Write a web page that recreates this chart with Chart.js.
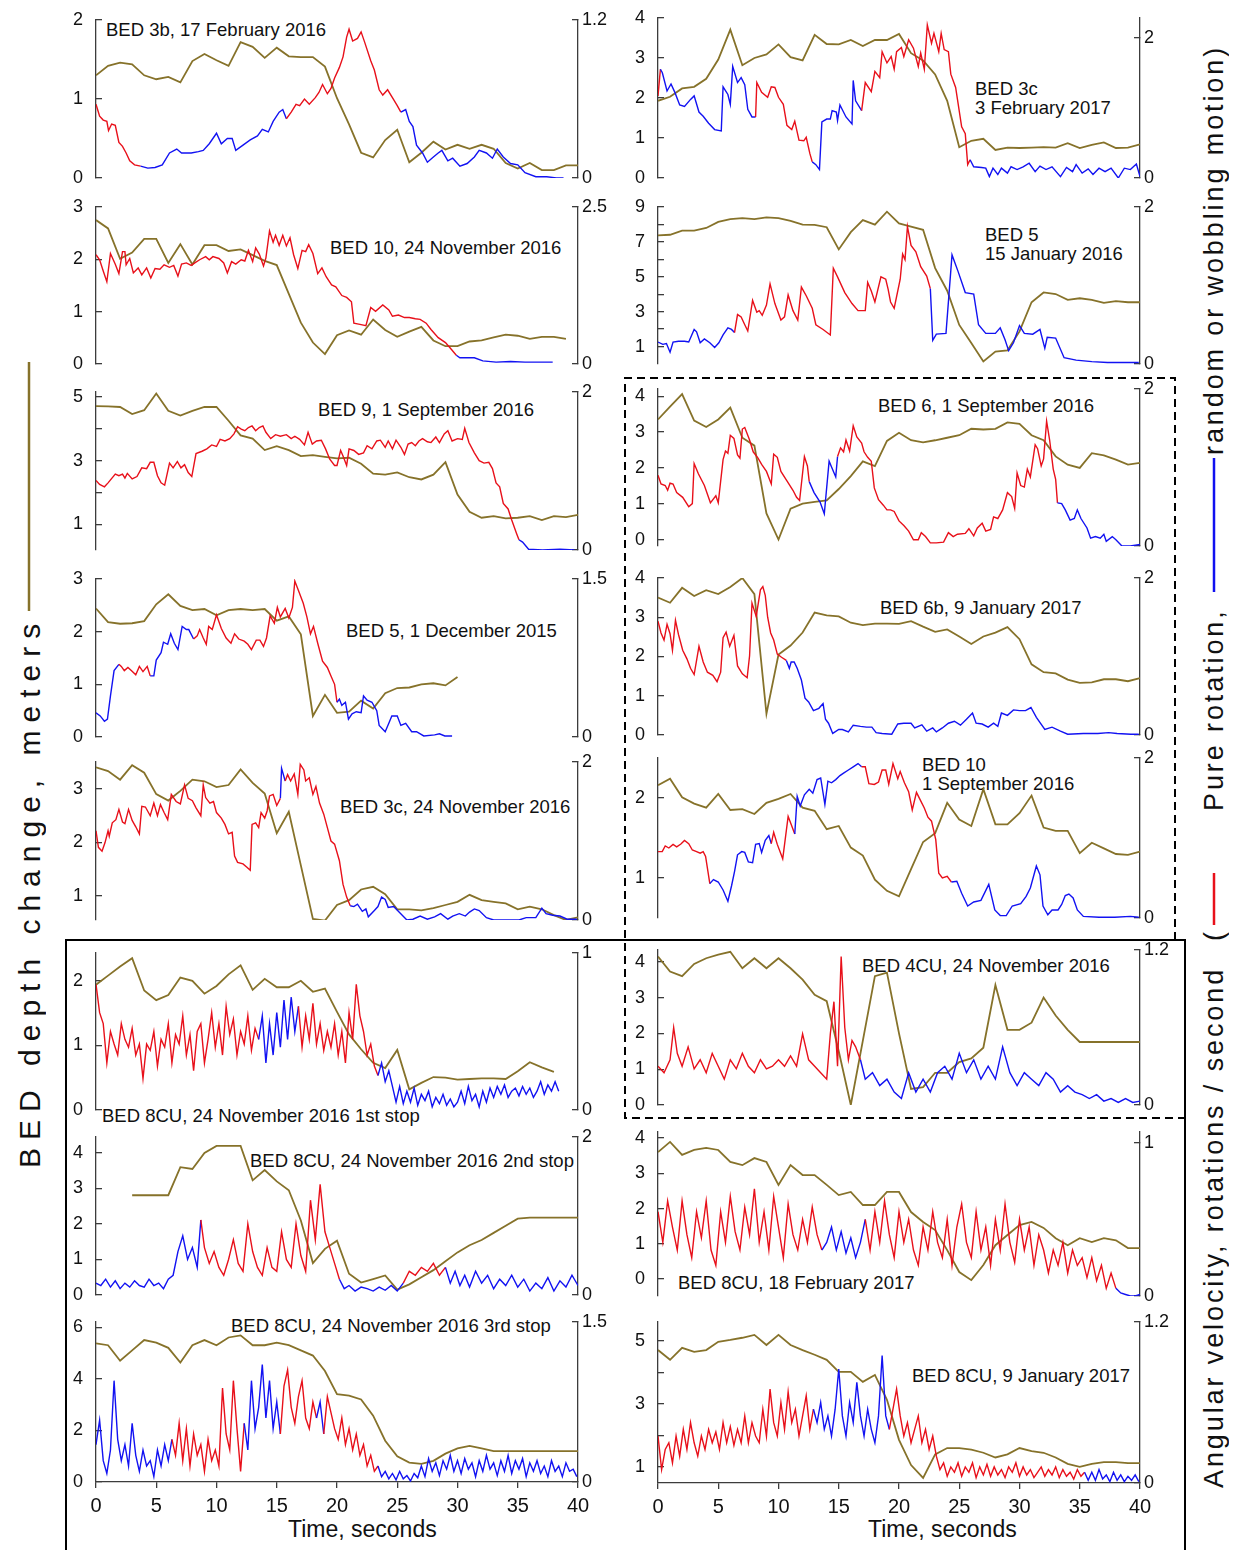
<!DOCTYPE html>
<html><head><meta charset="utf-8">
<script src="https://cdn.jsdelivr.net/npm/chart.js@4.4.1/dist/chart.umd.min.js"></script>
<style>
body{margin:0;background:#fff;width:1235px;height:1550px;position:relative;overflow:hidden;font-family:"Liberation Sans",Arial,sans-serif;}
canvas{position:absolute;}
.t{position:absolute;font-size:18.5px;color:#111;white-space:nowrap;line-height:19px;}
.v{position:absolute;writing-mode:vertical-rl;transform:rotate(180deg);white-space:nowrap;text-align:center;color:#111;}
.xt{position:absolute;font-size:23px;color:#111;white-space:nowrap;}
</style></head><body>
<svg width="1235" height="1550" style="position:absolute;left:0;top:0">
<polyline points="66,1552 66,940 1185,940 1185,1552" fill="none" stroke="#000" stroke-width="2"/>
<polyline points="1175,940 1175,378 625,378 625,1118 1185,1118" fill="none" stroke="#000" stroke-width="2" stroke-dasharray="8,5"/>
<line x1="29" y1="362" x2="29" y2="611" stroke="#86722a" stroke-width="2.5"/>
<line x1="1214" y1="873" x2="1214" y2="925" stroke="#e8101a" stroke-width="2.5"/>
<line x1="1214" y1="458" x2="1214" y2="592" stroke="#1010f0" stroke-width="2.5"/>
</svg>
<div class="v" style="left:12px;top:612px;height:560px;width:36px;font-size:30px;line-height:36px;letter-spacing:8px;">BED depth change, meters</div>
<div class="v" style="left:1198px;top:960px;height:535px;width:32px;font-size:27px;line-height:32px;letter-spacing:2.9px;">Angular velocity, rotations / second</div>
<div class="v" style="left:1198px;top:926px;height:22px;width:32px;font-size:27px;line-height:32px;">(</div>
<div class="v" style="left:1198px;top:575px;height:270px;width:32px;font-size:27px;line-height:32px;letter-spacing:2.9px;">Pure rotation,</div>
<div class="v" style="left:1198px;top:42px;height:415px;width:32px;font-size:27px;line-height:32px;letter-spacing:2.9px;">random or wobbling motion)</div>

<div class="t" style="left:106px;top:20px">BED 3b, 17 February 2016</div>
<div class="t" style="left:330px;top:238px">BED 10, 24 November 2016</div>
<div class="t" style="left:318px;top:400px">BED 9, 1 September 2016</div>
<div class="t" style="left:346px;top:621px">BED 5, 1 December 2015</div>
<div class="t" style="left:340px;top:797px">BED 3c, 24 November 2016</div>
<div class="t" style="left:102px;top:1106px">BED 8CU, 24 November 2016 1st stop</div>
<div class="t" style="left:250px;top:1151px">BED 8CU, 24 November 2016 2nd stop</div>
<div class="t" style="left:231px;top:1316px">BED 8CU, 24 November 2016 3rd stop</div>
<div class="t" style="left:975px;top:79px">BED 3c<br>3 February 2017</div>
<div class="t" style="left:985px;top:225px">BED 5<br>15 January 2016</div>
<div class="t" style="left:878px;top:396px">BED 6, 1 September 2016</div>
<div class="t" style="left:880px;top:598px">BED 6b, 9 January 2017</div>
<div class="t" style="left:922px;top:755px">BED 10<br>1 September 2016</div>
<div class="t" style="left:862px;top:956px">BED 4CU, 24 November 2016</div>
<div class="t" style="left:678px;top:1273px">BED 8CU, 18 February 2017</div>
<div class="t" style="left:912px;top:1366px">BED 8CU, 9 January 2017</div>
<div class="xt" style="left:288px;top:1516px">Time, seconds</div>
<div class="xt" style="left:868px;top:1516px">Time, seconds</div>

<script>
// ---------- x ticks ----------
const xTicks = [0,5,10,15,20,25,30,35,40];

// ---------- L1: BED 3b, 17 February 2016 ----------
const depL1 = [1.30,1.42,1.46,1.44,1.30,1.25,1.28,1.21,1.48,1.57,1.49,1.42,1.72,1.66,1.52,1.65,1.54,1.53,1.53,1.41,1.01,0.68,0.32,0.26,0.48,0.61,0.20,0.32,0.46,0.36,0.42,0.37,0.42,0.37,0.19,0.12,0.19,0.10,0.10,0.16,0.16];
const velL1 = [[0,0.56],[0.3,0.47],[0.6,0.44],[0.9,0.43],[1.04,0.36],[1.3,0.41],[1.6,0.40],[1.9,0.27],[2.2,0.24],[2.5,0.19],[2.8,0.13],[3.2,0.10],[3.7,0.09],[4.3,0.075],[4.9,0.08],[5.5,0.10],[6.1,0.19],[6.7,0.22],[7.1,0.19],[7.9,0.19],[8.5,0.20],[8.9,0.21],[9.4,0.26],[10.0,0.34],[10.4,0.26],[10.9,0.30],[11.3,0.30],[11.6,0.21],[12.2,0.25],[12.8,0.29],[13.4,0.32],[13.8,0.37],[14.3,0.35],[14.7,0.43],[15.2,0.50],[15.5,0.52],[15.8,0.45],[16.2,0.50],[16.6,0.56],[16.9,0.55],[17.3,0.60],[17.7,0.56],[18.2,0.61],[18.5,0.65],[18.8,0.71],[19.2,0.64],[19.5,0.68],[19.8,0.76],[20.2,0.84],[20.5,0.92],[20.8,1.07],[21.0,1.13],[21.3,1.04],[21.7,1.06],[22.0,1.11],[22.3,1.03],[22.8,0.89],[23.1,0.82],[23.5,0.67],[23.8,0.63],[24.2,0.67],[24.6,0.61],[25.0,0.55],[25.3,0.50],[25.7,0.52],[26.0,0.43],[26.3,0.39],[26.6,0.25],[27.1,0.19],[27.5,0.12],[28.0,0.16],[28.4,0.19],[28.7,0.21],[29.2,0.13],[29.6,0.15],[30.2,0.09],[30.8,0.11],[31.4,0.16],[31.8,0.21],[32.4,0.19],[32.9,0.15],[33.3,0.22],[33.8,0.16],[34.4,0.11],[35.0,0.10],[35.6,0.04],[36.5,0.01],[37.4,0.01],[38.2,0],[38.8,0]];
const blueL1 = [[3.7,15.8],[25.3,40]];

// ---------- L2: BED 10, 24 November 2016 ----------
const depL2 = [2.75,2.59,2.01,2.13,2.39,2.39,1.93,2.29,1.90,2.27,2.27,2.16,2.19,2.08,1.97,1.89,1.34,0.79,0.41,0.19,0.55,0.64,0.56,0.85,0.65,0.52,0.62,0.71,0.45,0.34,0.34,0.43,0.45,0.51,0.56,0.54,0.48,0.52,0.52,0.48,null];
const velL2 = [[0,1.74],[0.3,1.66],[0.6,1.48],[0.9,1.31],[1.2,1.76],[1.6,1.59],[1.9,1.44],[2.2,1.79],[2.4,1.79],[2.5,1.58],[2.8,1.68],[3.1,1.45],[3.5,1.53],[3.8,1.42],[4.2,1.53],[4.55,1.37],[4.9,1.52],[5.3,1.51],[5.65,1.58],[6.1,1.54],[6.45,1.57],[6.8,1.40],[7.1,1.59],[7.5,1.61],[7.9,1.57],[8.2,1.61],[8.6,1.66],[9.1,1.71],[9.4,1.66],[9.7,1.71],[10.2,1.68],[10.6,1.61],[10.9,1.45],[11.25,1.63],[11.6,1.59],[12.05,1.66],[12.35,1.64],[12.65,1.81],[13.0,1.63],[13.25,1.85],[13.55,1.75],[13.9,1.56],[14.1,1.69],[14.4,2.12],[14.7,1.94],[14.9,2.05],[15.2,1.89],[15.5,2.05],[15.8,1.88],[16.1,2.01],[16.4,1.74],[16.75,1.52],[17.1,1.81],[17.4,1.79],[17.65,1.90],[18.0,1.76],[18.4,1.44],[18.75,1.53],[19.1,1.39],[19.55,1.26],[19.9,1.23],[20.4,1.09],[20.8,1.06],[21.2,0.99],[21.4,0.65],[21.9,0.63],[22.4,0.61],[22.8,0.90],[23.2,0.84],[23.8,0.94],[24.3,0.86],[24.6,0.76],[25.1,0.78],[25.6,0.74],[26.0,0.74],[26.5,0.72],[26.9,0.71],[27.4,0.65],[27.8,0.55],[28.4,0.42],[29.0,0.34],[29.5,0.23],[29.9,0.14],[30.2,0.10],[31.4,0.10],[32.1,0.05],[33.2,0.03],[34.4,0.04],[35.6,0.03],[36.8,0.03],[37.9,0.03]];
const blueL2 = [[29.9,40]];

// ---------- L3: BED 9, 1 September 2016 ----------
const depL3 = [4.71,4.70,4.68,4.46,4.58,5.10,4.56,4.41,4.56,4.68,4.68,4.25,3.79,3.69,3.33,3.45,3.33,3.14,3.17,3.12,3.07,3.09,2.90,2.59,2.56,2.63,2.48,2.41,2.56,2.95,1.94,1.40,1.21,1.26,1.19,1.21,1.26,1.14,1.26,1.23,1.30];
const velL3 = [[0,0.88],[0.3,0.83],[0.7,0.80],[1.0,0.85],[1.6,0.96],[1.9,0.94],[2.2,0.96],[2.4,0.91],[2.6,0.97],[3.0,0.90],[3.4,0.93],[3.8,1.04],[4.2,1.03],[4.5,1.11],[4.8,1.11],[5.1,0.94],[5.4,0.85],[5.7,0.82],[6.1,1.10],[6.4,1.04],[6.75,1.12],[7.05,1.04],[7.35,1.08],[7.65,0.98],[7.95,0.93],[8.3,1.22],[8.8,1.25],[9.2,1.28],[9.6,1.33],[10.0,1.31],[10.3,1.40],[10.7,1.38],[11.1,1.41],[11.45,1.47],[11.75,1.56],[12.05,1.53],[12.35,1.51],[12.65,1.55],[12.95,1.57],[13.25,1.51],[13.55,1.55],[13.85,1.57],[14.1,1.49],[14.5,1.41],[14.9,1.46],[15.3,1.44],[15.8,1.46],[16.2,1.41],[16.5,1.44],[16.9,1.40],[17.3,1.33],[17.6,1.49],[17.95,1.34],[18.3,1.38],[18.7,1.39],[19.05,1.28],[19.4,1.15],[19.8,1.07],[20.0,1.07],[20.3,1.26],[20.5,1.19],[20.8,1.07],[21.0,1.28],[21.4,1.26],[21.8,1.21],[22.2,1.23],[22.5,1.32],[22.9,1.28],[23.3,1.38],[23.6,1.39],[24.0,1.30],[24.25,1.38],[24.6,1.28],[24.9,1.39],[25.3,1.30],[25.6,1.21],[25.9,1.34],[26.2,1.36],[26.5,1.32],[26.8,1.38],[27.1,1.41],[27.5,1.37],[27.8,1.36],[28.2,1.43],[28.5,1.36],[28.9,1.47],[29.2,1.51],[29.55,1.38],[30.0,1.41],[30.4,1.40],[30.6,1.54],[30.95,1.36],[31.4,1.23],[31.8,1.13],[32.2,1.10],[32.6,1.11],[32.9,1.03],[33.2,0.85],[33.5,0.80],[33.8,0.59],[34.2,0.52],[34.5,0.38],[34.9,0.21],[35.1,0.13],[35.4,0.10],[35.9,0.01],[37.05,0],[38.5,0.01],[39.7,0]];
const blueL3 = [[35.1,40]];

// ---------- L4: BED 5, 1 December 2015 ----------
const depL4 = [2.44,2.18,2.15,2.16,2.20,2.52,2.71,2.49,2.41,2.43,2.31,2.41,2.43,2.41,2.43,2.21,2.29,1.95,0.40,0.80,0.46,0.48,0.69,0.54,0.83,0.93,0.94,1.00,1.02,0.98,1.14,null,null,null,null,null,null,null,null,null,null];
const velL4 = [[0,0.23],[0.35,0.20],[0.7,0.15],[0.95,0.17],[1.2,0.39],[1.5,0.63],[1.9,0.69],[2.1,0.67],[2.35,0.63],[2.65,0.66],[2.95,0.63],[3.3,0.59],[3.6,0.67],[3.9,0.62],[4.25,0.67],[4.5,0.58],[4.8,0.58],[5.0,0.73],[5.4,0.80],[5.6,0.90],[5.95,0.88],[6.2,0.98],[6.5,0.89],[6.8,0.83],[7.15,1.05],[7.5,1.02],[7.7,1.02],[8.1,0.93],[8.4,0.96],[8.6,1.02],[8.9,0.94],[9.15,0.88],[9.35,1.05],[9.65,1.02],[10.0,1.16],[10.4,1.03],[10.8,0.94],[11.2,0.89],[11.5,0.98],[11.85,0.93],[12.3,0.91],[12.6,0.88],[12.9,0.83],[13.3,0.92],[13.6,0.92],[13.9,0.86],[14.15,0.94],[14.45,1.15],[14.8,1.08],[15.05,1.23],[15.3,1.14],[15.7,1.22],[16.0,1.13],[16.3,1.23],[16.5,1.48],[16.8,1.39],[17.2,1.27],[17.5,1.14],[17.8,0.98],[18.05,1.05],[18.4,0.89],[18.8,0.72],[19.2,0.66],[19.5,0.58],[19.8,0.50],[20.0,0.33],[20.2,0.36],[20.4,0.30],[20.7,0.33],[20.95,0.17],[21.25,0.22],[21.6,0.24],[22.0,0.23],[22.2,0.39],[22.5,0.35],[22.9,0.33],[23.3,0.25],[23.5,0.11],[24.0,0.05],[24.3,0.13],[24.55,0.20],[25.0,0.20],[25.3,0.11],[25.7,0.13],[26.2,0.05],[26.6,0.05],[27.2,0.01],[28.1,0.02],[28.5,0.03],[28.95,0.01],[29.55,0.01]];
const blueL4 = [[0,1.9],[4.5,8.0],[20.0,40]];

// ---------- L5: BED 3c, 24 November 2016 ----------
const depL5 = [3.40,3.33,3.17,3.44,3.30,2.90,2.78,2.96,3.17,3.14,3.03,3.07,3.36,3.11,2.91,2.17,2.57,1.57,0.57,0.54,0.83,0.92,1.12,1.17,1.03,0.75,0.75,0.73,0.77,0.83,0.89,1.02,0.92,0.89,0.86,0.75,0.80,0.75,0.64,0.55,0.60];
const velL5 = [[0,1.13],[0.2,0.92],[0.5,0.87],[0.75,0.98],[1.0,1.13],[1.1,1.06],[1.35,1.23],[1.65,1.27],[1.9,1.40],[2.2,1.24],[2.4,1.22],[2.7,1.40],[3.0,1.26],[3.3,1.18],[3.6,1.09],[3.8,1.44],[4.1,1.43],[4.5,1.32],[4.8,1.48],[5.1,1.32],[5.35,1.46],[5.65,1.36],[5.95,1.27],[6.25,1.59],[6.65,1.50],[7.0,1.47],[7.35,1.71],[7.65,1.54],[8.0,1.51],[8.3,1.42],[8.7,1.32],[8.9,1.71],[9.1,1.55],[9.45,1.48],[9.75,1.50],[10.0,1.36],[10.4,1.29],[10.7,1.21],[11.0,1.09],[11.3,1.11],[11.5,0.81],[11.75,0.73],[12.2,0.71],[12.5,0.67],[12.8,0.63],[12.95,1.21],[13.25,1.23],[13.5,1.17],[13.7,1.36],[14.0,1.29],[14.2,1.38],[14.4,1.57],[14.7,1.59],[15.0,1.45],[15.3,1.54],[15.4,1.92],[15.7,1.76],[15.9,1.84],[16.15,1.76],[16.45,1.85],[16.75,1.59],[16.95,1.97],[17.25,1.90],[17.4,1.76],[17.7,1.80],[18.0,1.59],[18.25,1.69],[18.55,1.48],[18.9,1.34],[19.2,1.17],[19.5,1.00],[19.8,0.96],[20.2,0.75],[20.5,0.45],[20.8,0.29],[21.1,0.18],[21.4,0.17],[21.7,0.20],[22.1,0.11],[22.4,0.14],[22.6,0.04],[23.1,0.12],[23.4,0.17],[23.7,0.29],[24.0,0.26],[24.25,0.16],[24.7,0.17],[25.15,0.10],[25.8,0],[26.3,0.01],[26.9,0.05],[27.5,0.01],[28.1,0.04],[28.6,0.08],[29.2,0.01],[29.6,0.05],[30.15,0.08],[30.65,0.05],[31.0,0.10],[31.4,0.14],[31.8,0.12],[32.4,0.03],[33.0,0],[34.1,0],[35.1,0],[35.7,0.03],[36.5,0.03],[37.0,0.15],[37.35,0.08],[37.9,0.06],[38.5,0.05],[39.1,0.01],[39.9,0.01]];
const blueL5 = [[15.35,15.75],[21.1,40]];

// ---------- L6: BED 8CU, 24 November 2016 1st stop ----------
const depL6 = [1.94,2.08,2.22,2.35,1.85,1.70,1.78,2.05,2.00,1.80,1.92,2.10,2.24,1.86,2.03,1.90,1.90,2.00,1.83,1.88,1.52,1.17,0.94,0.73,0.65,0.93,0.32,0.42,0.51,0.50,0.47,0.48,0.49,0.49,0.48,0.60,0.74,0.66,0.59,null,null];
const velL6 = [[0,0.80],[0.3,0.62],[0.6,0.55],[0.9,0.30],[1.2,0.50],[1.5,0.42],[1.8,0.35],[2.1,0.55],[2.4,0.45],[2.7,0.40],[3.0,0.52],[3.3,0.35],[3.6,0.42],[3.9,0.20],[4.2,0.42],[4.5,0.38],[4.8,0.50],[5.1,0.28],[5.4,0.45],[5.7,0.40],[6.0,0.55],[6.3,0.30],[6.6,0.48],[6.9,0.42],[7.2,0.60],[7.5,0.35],[7.8,0.48],[8.1,0.25],[8.4,0.50],[8.7,0.55],[9.0,0.30],[9.3,0.45],[9.6,0.62],[9.9,0.40],[10.2,0.55],[10.5,0.35],[10.8,0.66],[11.1,0.48],[11.4,0.58],[11.7,0.35],[12.0,0.50],[12.3,0.42],[12.6,0.60],[12.9,0.38],[13.2,0.52],[13.5,0.45],[13.8,0.60],[14.1,0.30],[14.4,0.55],[14.7,0.35],[15.0,0.62],[15.3,0.40],[15.6,0.70],[15.9,0.45],[16.2,0.72],[16.5,0.50],[16.8,0.66],[17.1,0.40],[17.4,0.60],[17.7,0.45],[18.0,0.68],[18.3,0.42],[18.6,0.55],[18.9,0.38],[19.2,0.50],[19.5,0.40],[19.8,0.55],[20.1,0.35],[20.4,0.50],[20.7,0.30],[21.0,0.62],[21.3,0.45],[21.6,0.80],[21.9,0.60],[22.2,0.50],[22.5,0.35],[22.8,0.42],[23.1,0.28],[23.4,0.22],[23.7,0.30],[24.0,0.18],[24.3,0.25],[24.6,0.15],[24.9,0.05],[25.2,0.15],[25.5,0.04],[25.8,0.12],[26.1,0.05],[26.4,0.14],[26.7,0.03],[27.0,0.10],[27.3,0.06],[27.6,0.12],[27.9,0.02],[28.2,0.08],[28.5,0.04],[28.8,0.10],[29.1,0.03],[29.4,0.07],[29.7,0.02],[30.0,0.05],[30.3,0.12],[30.6,0.04],[30.9,0.15],[31.2,0.06],[31.5,0.10],[31.8,0.02],[32.1,0.12],[32.4,0.05],[32.7,0.14],[33.0,0.08],[33.3,0.15],[33.6,0.10],[33.9,0.16],[34.2,0.08],[34.5,0.12],[34.8,0.14],[35.1,0.09],[35.4,0.15],[35.7,0.10],[36.0,0.14],[36.3,0.08],[36.6,0.12],[36.9,0.18],[37.2,0.10],[37.5,0.16],[37.8,0.12],[38.1,0.18],[38.4,0.12]];
const blueL6 = [[13.5,16.7],[23.3,40]];

// ---------- L7: BED 8CU, 24 November 2016 2nd stop ----------
const depL7 = [null,null,null,2.81,2.81,2.81,2.81,3.60,3.55,4.00,4.20,4.20,4.20,3.23,3.52,3.20,2.95,2.10,0.90,1.30,1.53,0.60,0.35,0.45,0.55,0.15,0.30,0.50,0.70,0.95,1.20,1.40,1.55,1.75,1.95,2.15,2.18,2.18,2.18,2.18,2.18];
const velL7 = [[0,0.15],[0.4,0.12],[0.8,0.20],[1.2,0.10],[1.6,0.18],[2.0,0.08],[2.4,0.15],[2.8,0.10],[3.2,0.18],[3.6,0.12],[4.0,0.10],[4.4,0.20],[4.8,0.12],[5.2,0.15],[5.6,0.08],[6.0,0.20],[6.4,0.25],[6.8,0.55],[7.2,0.75],[7.6,0.45],[8.0,0.60],[8.4,0.35],[8.7,0.95],[9.0,0.60],[9.4,0.40],[9.8,0.55],[10.2,0.35],[10.6,0.25],[11.0,0.45],[11.4,0.70],[11.8,0.40],[12.2,0.30],[12.6,0.90],[13.0,0.55],[13.4,0.35],[13.8,0.25],[14.2,0.60],[14.6,0.35],[15.0,0.30],[15.4,0.80],[15.8,0.45],[16.2,0.35],[16.6,0.90],[17.0,0.50],[17.4,0.30],[17.8,1.20],[18.2,0.70],[18.6,1.40],[19.0,0.80],[19.4,0.60],[19.8,0.40],[20.2,0.20],[20.6,0.08],[21.0,0.12],[21.5,0.05],[22.0,0.10],[22.5,0.08],[23.0,0.05],[23.5,0.10],[24.0,0.06],[24.5,0.12],[25.0,0.05],[25.5,0.15],[26.0,0.30],[26.5,0.25],[27.0,0.35],[27.5,0.30],[28.0,0.40],[28.5,0.25],[29.0,0.35],[29.4,0.15],[29.8,0.30],[30.2,0.12],[30.6,0.25],[31.0,0.10],[31.5,0.30],[32.0,0.15],[32.5,0.25],[33.0,0.08],[33.5,0.20],[34.0,0.12],[34.5,0.25],[35.0,0.10],[35.5,0.20],[36.0,0.05],[36.5,0.15],[37.0,0.08],[37.5,0.22],[38.0,0.05],[38.5,0.18],[39.0,0.10],[39.5,0.25],[40,0.12]];
const blueL7 = [[0,8.6],[20.4,25.5],[29,40]];

// ---------- L8: BED 8CU, 24 November 2016 3rd stop ----------
const depL8 = [5.37,5.30,4.70,5.10,5.50,5.40,5.20,4.63,5.30,5.50,5.30,5.60,5.68,5.30,5.30,5.40,5.30,5.10,4.90,4.30,3.40,3.35,3.20,2.57,1.60,1.00,0.75,0.70,0.82,1.10,1.30,1.40,1.30,1.20,1.20,1.20,1.20,1.20,1.20,1.20,1.20];
const velL8 = [[0,0.35],[0.3,0.58],[0.6,0.20],[0.9,0.08],[1.2,0.30],[1.5,0.95],[1.8,0.40],[2.1,0.20],[2.4,0.35],[2.7,0.15],[3.0,0.55],[3.3,0.25],[3.6,0.10],[3.9,0.30],[4.2,0.15],[4.5,0.20],[4.8,0.05],[5.1,0.30],[5.4,0.15],[5.7,0.35],[6.0,0.20],[6.3,0.40],[6.6,0.25],[6.9,0.55],[7.2,0.20],[7.5,0.50],[7.8,0.15],[8.1,0.45],[8.4,0.25],[8.7,0.35],[9.0,0.10],[9.3,0.40],[9.6,0.20],[9.9,0.30],[10.2,0.15],[10.5,0.88],[10.8,0.45],[11.1,0.30],[11.4,0.95],[11.7,0.50],[12.0,0.10],[12.3,0.55],[12.6,0.30],[12.9,0.95],[13.2,0.50],[13.5,0.70],[13.8,1.10],[14.1,0.60],[14.4,0.95],[14.7,0.50],[15.0,0.75],[15.3,0.45],[15.6,0.90],[15.9,1.05],[16.2,0.70],[16.5,0.55],[16.8,0.80],[17.1,0.95],[17.4,0.60],[17.7,0.50],[18.0,0.75],[18.3,0.60],[18.6,0.75],[18.9,0.45],[19.2,0.80],[19.5,0.65],[19.8,0.50],[20.1,0.40],[20.4,0.60],[20.7,0.35],[21.0,0.50],[21.3,0.30],[21.6,0.45],[21.9,0.25],[22.2,0.35],[22.5,0.15],[22.8,0.25],[23.1,0.10],[23.4,0.15],[23.7,0.05],[24.0,0.10],[24.3,0.03],[24.6,0.08],[24.9,0.02],[25.2,0.10],[25.5,0.03],[25.8,0.06],[26.1,0.01],[26.4,0.08],[26.7,0.04],[27.0,0.15],[27.3,0.05],[27.6,0.22],[27.9,0.10],[28.2,0.18],[28.5,0.06],[28.8,0.20],[29.1,0.12],[29.4,0.25],[29.7,0.10],[30.0,0.20],[30.3,0.08],[30.6,0.22],[30.9,0.12],[31.2,0.18],[31.5,0.05],[31.8,0.20],[32.1,0.10],[32.4,0.25],[32.7,0.12],[33.0,0.18],[33.3,0.06],[33.6,0.20],[33.9,0.10],[34.2,0.25],[34.5,0.08],[34.8,0.20],[35.1,0.12],[35.4,0.22],[35.7,0.05],[36.0,0.18],[36.3,0.10],[36.6,0.20],[36.9,0.08],[37.2,0.15],[37.5,0.05],[37.8,0.20],[38.1,0.10],[38.4,0.15],[38.7,0.05],[39.0,0.18],[39.3,0.10],[39.6,0.12],[39.9,0.05]];
const blueL8 = [[0,6.3],[12.2,15.3],[18.3,19],[23.5,40]];

// ---------- R1: BED 3c, 3 February 2017 ----------
const depR1 = [1.93,2.03,2.24,2.28,2.48,2.96,3.71,2.82,3.00,3.09,3.34,3.02,2.94,3.58,3.35,3.34,3.45,3.30,3.45,3.45,3.60,3.12,2.94,2.59,1.93,0.77,0.93,0.98,0.70,0.76,0.75,0.76,0.77,0.76,0.87,0.75,0.83,0.89,0.75,0.76,0.84];
const velR1 = [[0,1.17],[0.2,1.55],[0.36,1.50],[0.75,1.24],[1.08,1.34],[1.4,1.22],[1.8,1.04],[2.2,1.02],[2.7,1.12],[3.0,1.17],[3.4,0.94],[3.75,0.88],[4.2,0.78],[4.7,0.69],[5.25,0.67],[5.4,1.30],[5.8,1.19],[6.0,1.05],[6.2,1.59],[6.6,1.36],[6.9,1.43],[7.2,1.33],[7.45,0.98],[7.8,0.87],[8.1,0.87],[8.2,1.36],[8.6,1.22],[9.1,1.15],[9.4,1.30],[9.7,1.29],[10.0,1.15],[10.4,1.05],[10.7,0.75],[11.1,0.69],[11.35,0.81],[11.7,0.54],[12.1,0.53],[12.3,0.58],[12.6,0.35],[12.8,0.23],[13.1,0.19],[13.4,0.12],[13.6,0.80],[14.0,0.84],[14.3,0.84],[14.45,0.96],[14.8,0.94],[14.9,0.82],[15.1,1.04],[15.6,0.87],[16.1,0.77],[16.2,1.39],[16.4,1.10],[16.9,0.96],[17.2,1.36],[17.7,1.23],[18.0,1.52],[18.4,1.43],[18.6,1.80],[19.0,1.64],[19.35,1.73],[19.6,1.55],[19.8,1.80],[20.2,1.86],[20.4,1.73],[20.8,1.97],[21.2,1.85],[21.6,1.59],[21.8,1.78],[22.1,1.55],[22.35,2.18],[22.7,1.92],[22.9,2.06],[23.3,1.80],[23.5,2.06],[23.75,1.83],[24.1,1.80],[24.3,1.48],[24.7,1.29],[25.2,0.73],[25.5,0.63],[25.7,0.19],[25.9,0.26],[26.2,0.16],[26.85,0.15],[27.2,0.14],[27.5,0.02],[27.8,0.14],[28.2,0.05],[28.5,0.14],[29.0,0.07],[29.3,0.16],[29.8,0.12],[30.3,0.16],[30.8,0.21],[31.3,0.09],[31.7,0.17],[32.2,0.12],[32.7,0.16],[33.4,0.02],[33.9,0.15],[34.4,0.09],[34.7,0.19],[35.2,0.07],[35.7,0.13],[36.1,0.05],[36.6,0.14],[37.1,0.09],[37.6,0.14],[38.2,0],[38.7,0.14],[39.2,0.12],[39.7,0.20],[40,0.02]];
const blueR1 = [[0.2,8.1],[12.9,16.9],[25.9,40]];

// ---------- R2: BED 5, 15 January 2016 ----------
const depR2 = [7.37,7.41,7.65,7.65,7.80,8.15,8.30,8.36,8.30,8.40,8.36,8.21,7.99,7.97,7.84,6.57,7.56,8.25,7.99,8.73,8.06,7.87,7.69,5.50,4.20,2.24,1.21,0.15,0.71,0.78,1.87,3.54,4.10,4.01,3.68,3.77,3.68,3.51,3.60,3.54,3.54];
const velR2 = [[0,0.28],[0.4,0.25],[0.7,0.26],[1.0,0.15],[1.25,0.28],[1.7,0.29],[2.2,0.29],[2.55,0.28],[3.0,0.44],[3.2,0.41],[3.5,0.27],[3.85,0.32],[4.3,0.27],[4.7,0.21],[5.05,0.27],[5.4,0.37],[5.8,0.46],[6.1,0.44],[6.35,0.40],[6.6,0.63],[6.9,0.60],[7.2,0.50],[7.45,0.42],[7.85,0.81],[8.2,0.66],[8.4,0.68],[8.65,0.62],[9.0,0.75],[9.3,1.02],[9.7,0.77],[10.2,0.56],[10.5,0.60],[10.8,0.88],[11.2,0.68],[11.6,0.56],[11.9,0.98],[12.3,0.87],[12.8,0.71],[13.1,0.50],[13.7,0.44],[14.3,0.37],[14.55,1.22],[14.9,1.11],[15.5,0.91],[16.1,0.77],[16.6,0.68],[17.2,0.68],[17.4,1.04],[17.7,0.93],[18.0,0.79],[18.5,1.11],[18.9,1.08],[19.1,0.95],[19.3,0.79],[19.6,0.71],[20.1,1.08],[20.3,1.40],[20.5,1.33],[20.7,1.75],[21.0,1.51],[21.4,1.43],[21.8,1.24],[22.3,1.12],[22.6,0.96],[22.8,0.30],[23.1,0.38],[23.9,0.39],[24.4,1.39],[24.9,1.18],[25.5,0.91],[26.2,0.89],[26.6,0.50],[27.2,0.39],[28.0,0.39],[28.4,0.46],[28.8,0.31],[29.1,0.17],[29.5,0.27],[30.0,0.49],[30.4,0.39],[31.1,0.38],[31.7,0.44],[32.1,0.20],[32.3,0.34],[33.0,0.33],[33.7,0.08],[34.7,0.05],[36.0,0.03],[37.3,0.02],[38.9,0.02],[39.9,0.02]];
const blueR2 = [[0,6.35],[22.6,40]];

// ---------- R3: BED 6, 1 September 2016 ----------
const depR3 = [3.35,3.71,4.06,3.32,3.14,3.35,3.68,2.84,2.62,0.73,0.00,0.86,1.00,1.05,1.09,1.41,1.77,2.18,2.05,2.75,2.98,2.77,2.71,2.77,2.84,2.91,3.09,3.07,3.09,3.27,3.23,2.91,2.77,2.32,2.09,2.00,2.41,2.35,2.23,2.09,2.14];
const velR3 = [[0,0.90],[0.25,0.79],[0.6,0.77],[0.8,0.71],[1.0,0.80],[1.25,0.79],[1.55,0.68],[2.05,0.62],[2.55,0.50],[2.85,0.54],[3.0,1.05],[3.35,0.92],[3.85,0.77],[4.35,0.55],[4.8,0.64],[5.0,0.55],[5.4,1.10],[5.6,1.21],[5.8,1.18],[6.0,1.41],[6.3,1.37],[6.6,1.16],[6.8,1.12],[7.0,1.49],[7.2,1.51],[7.6,1.35],[7.9,1.20],[8.3,1.12],[8.6,1.04],[9.0,0.95],[9.4,0.79],[9.6,1.17],[9.9,1.13],[10.2,0.95],[10.7,0.83],[11.2,0.71],[11.5,0.62],[11.75,0.58],[12.15,1.14],[12.4,1.02],[12.55,0.82],[12.95,0.68],[13.45,0.56],[13.8,0.41],[14.2,1.08],[14.75,0.88],[14.9,1.14],[15.15,1.25],[15.4,1.20],[15.6,1.35],[15.9,1.21],[16.2,1.53],[16.5,1.39],[16.9,1.31],[17.1,1.20],[17.4,1.13],[17.7,1.08],[17.95,0.74],[18.3,0.59],[18.7,0.52],[19.0,0.46],[19.3,0.46],[19.6,0.44],[20.0,0.32],[20.4,0.26],[20.8,0.19],[21.2,0.08],[21.6,0.08],[21.85,0.17],[22.2,0.12],[22.6,0.04],[23.1,0.04],[23.7,0.05],[24.1,0.17],[24.5,0.12],[24.85,0.15],[25.5,0.16],[25.8,0.22],[26.2,0.13],[26.5,0.23],[26.9,0.29],[27.2,0.19],[27.6,0.21],[27.85,0.37],[28.2,0.35],[28.6,0.46],[29.0,0.68],[29.35,0.63],[29.6,0.48],[29.8,0.93],[30.1,0.77],[30.4,0.75],[30.65,0.98],[30.9,0.88],[31.3,1.29],[31.5,1.24],[31.8,1.02],[32.0,1.11],[32.25,1.59],[32.5,1.35],[32.8,0.98],[33.0,0.85],[33.15,0.55],[33.5,0.54],[33.8,0.46],[34.2,0.33],[34.55,0.35],[34.8,0.46],[35.1,0.35],[35.6,0.23],[35.9,0.10],[36.3,0.12],[36.7,0.10],[37.0,0.15],[37.2,0.06],[37.7,0.12],[38.0,0.08],[38.5,0],[39.2,0],[40,0.02]];
const blueR3 = [[12.5,14.9],[33.15,40]];

// ---------- R4: BED 6b, 9 January 2017 ----------
const depR4 = [3.50,3.37,3.75,3.54,3.69,3.59,3.77,4.00,3.59,0.54,2.05,2.28,2.61,3.12,3.05,3.02,2.86,2.80,2.84,2.84,2.83,2.90,2.76,2.63,2.69,2.51,2.32,2.51,2.61,2.75,2.44,1.80,1.60,1.57,1.41,1.33,1.34,1.42,1.42,1.37,1.45];
const velR4 = [[0,1.45],[0.25,1.30],[0.5,1.21],[0.75,1.41],[1.0,1.29],[1.2,1.08],[1.45,1.46],[1.7,1.28],[2.05,1.08],[2.4,0.97],[2.7,0.85],[3.0,0.77],[3.4,1.13],[3.75,0.93],[4.1,0.80],[4.55,0.76],[4.9,0.68],[5.2,0.80],[5.4,1.24],[5.65,1.31],[5.95,1.13],[6.3,1.27],[6.6,0.88],[7.0,0.78],[7.4,0.73],[7.6,1.01],[7.8,1.68],[8.15,1.51],[8.5,1.85],[8.7,1.89],[8.9,1.78],[9.1,1.50],[9.35,1.30],[9.6,1.21],[9.9,1.03],[10.25,0.99],[10.65,0.95],[10.9,0.85],[11.05,0.93],[11.3,0.93],[11.55,0.85],[11.9,0.70],[12.2,0.47],[12.5,0.42],[12.9,0.31],[13.35,0.34],[13.7,0.40],[13.9,0.20],[14.15,0.15],[14.5,0.02],[15.0,0.07],[15.3,0.07],[15.8,0.04],[16.2,0.125],[16.8,0.11],[17.3,0.10],[17.75,0.10],[18.1,0.03],[18.6,0.02],[19.4,0.01],[19.9,0.14],[20.4,0.15],[21.0,0.15],[21.3,0.09],[21.9,0.13],[22.3,0.05],[22.8,0.09],[23.1,0.04],[23.6,0.09],[24.1,0.15],[24.6,0.175],[25.1,0.125],[25.6,0.20],[26.1,0.28],[26.4,0.15],[26.9,0.14],[27.4,0.10],[27.85,0.15],[28.2,0.11],[28.5,0.28],[29.0,0.25],[29.5,0.32],[30.0,0.31],[30.5,0.31],[30.95,0.35],[31.4,0.225],[32.1,0.07],[32.7,0.10],[33.4,0.05],[34.0,0.01],[35.3,0.02],[36.5,0.02],[37.4,0.03],[38.1,0.02],[39.25,0.01],[39.9,0.01]];
const blueR4 = [[10.7,40]];

// ---------- R5: BED 10, 1 September 2016 ----------
const depR5 = [2.16,2.24,2.01,1.93,1.88,2.05,1.85,1.86,1.80,1.94,1.99,2.05,1.88,1.84,1.61,1.65,1.38,1.28,0.98,0.84,0.77,1.11,1.45,1.56,1.94,1.73,1.65,2.11,1.67,1.67,1.81,2.03,1.63,1.59,1.59,1.31,1.44,1.37,1.30,1.29,1.33];
const velR5 = [[0,0.83],[0.35,0.83],[0.6,0.90],[0.9,0.875],[1.25,0.92],[1.55,0.89],[1.9,0.925],[2.2,0.97],[2.55,0.93],[2.85,0.85],[3.2,0.83],[3.5,0.81],[3.75,0.83],[3.95,0.77],[4.3,0.43],[4.6,0.48],[5.0,0.45],[5.4,0.35],[5.8,0.21],[6.1,0.40],[6.35,0.58],[6.6,0.79],[6.95,0.83],[7.2,0.82],[7.5,0.70],[7.85,0.69],[8.1,0.92],[8.4,0.93],[8.6,0.82],[8.9,0.97],[9.2,1.03],[9.4,0.93],[9.6,1.07],[9.9,0.92],[10.35,0.74],[10.8,1.27],[11.0,1.19],[11.35,1.05],[11.55,1.52],[11.8,1.40],[12.15,1.54],[12.55,1.61],[12.85,1.56],[13.2,1.73],[13.5,1.75],[13.85,1.42],[14.1,1.71],[14.4,1.69],[14.75,1.73],[15.1,1.78],[15.4,1.81],[15.8,1.85],[16.2,1.89],[16.6,1.93],[16.9,1.89],[17.2,1.89],[17.5,1.68],[17.95,1.67],[18.3,1.70],[18.6,1.85],[18.9,1.85],[19.15,1.67],[19.5,1.93],[19.9,1.74],[20.1,1.83],[20.45,1.69],[20.8,1.58],[21.1,1.35],[21.45,1.57],[21.75,1.48],[22.1,1.375],[22.4,1.26],[22.7,1.21],[23.05,0.98],[23.3,0.56],[23.6,0.50],[24.0,0.52],[24.35,0.45],[24.8,0.46],[25.2,0.31],[25.7,0.15],[26.2,0.20],[26.8,0.22],[27.45,0.42],[27.95,0.10],[28.4,0.03],[28.9,0.03],[29.4,0.15],[30.1,0.18],[30.55,0.27],[30.9,0.375],[31.4,0.65],[31.7,0.54],[31.95,0.15],[32.35,0.04],[32.7,0.10],[33.2,0.10],[33.5,0.17],[33.8,0.28],[34.1,0.30],[34.45,0.25],[34.8,0.10],[35.3,0.02],[36.6,0.01],[37.9,0.01],[39.2,0.02],[39.9,0.01]];
const blueR5 = [[4.3,9.4],[11.4,16.95],[24.4,40]];

// ---------- R6: BED 4CU, 24 November 2016 ----------
const depR6 = [4.15,3.73,3.60,3.94,4.10,4.20,4.28,3.82,4.10,3.82,4.10,3.82,3.50,3.08,2.90,1.50,0.00,1.80,3.60,3.70,2.00,0.45,0.50,0.90,0.90,1.20,1.30,1.60,3.35,2.10,2.10,2.30,3.00,2.50,2.10,1.76,1.76,1.76,1.76,1.76,1.76];
const velR6 = [[0,0.30],[0.5,0.25],[1.0,0.35],[1.3,0.60],[1.6,0.40],[2.0,0.30],[2.5,0.45],[3.0,0.28],[3.5,0.35],[4.0,0.25],[4.5,0.40],[5.0,0.30],[5.5,0.20],[6.0,0.35],[6.5,0.28],[7.0,0.40],[7.5,0.30],[8.0,0.25],[8.5,0.35],[9.0,0.28],[9.5,0.30],[10.0,0.35],[10.5,0.30],[11.0,0.38],[11.5,0.30],[12.0,0.55],[12.5,0.35],[13.0,0.30],[13.5,0.25],[14.0,0.20],[14.3,0.55],[14.6,0.80],[14.9,0.30],[15.2,1.15],[15.5,0.60],[15.8,0.35],[16.1,0.50],[16.4,0.45],[16.8,0.35],[17.2,0.20],[17.8,0.25],[18.4,0.15],[19.0,0.20],[19.6,0.10],[20.2,0.05],[20.8,0.25],[21.4,0.10],[22.0,0.20],[22.6,0.10],[23.2,0.25],[23.8,0.30],[24.4,0.20],[25.0,0.40],[25.6,0.25],[26.2,0.35],[26.8,0.20],[27.4,0.30],[28.0,0.20],[28.6,0.45],[29.2,0.25],[29.8,0.15],[30.4,0.25],[31.0,0.20],[31.6,0.15],[32.2,0.25],[32.8,0.20],[33.4,0.10],[34.0,0.15],[34.6,0.10],[35.2,0.08],[35.8,0.05],[36.4,0.08],[37.0,0.03],[37.6,0.05],[38.2,0.02],[38.8,0.05],[39.4,0.02],[40,0.03]];
const blueR6 = [[16.8,40]];

// ---------- R7: BED 8CU, 18 February 2017 ----------
const depR7 = [3.60,3.89,3.52,3.66,3.72,3.66,3.32,3.23,3.43,3.32,2.67,3.23,2.95,2.95,2.67,2.38,2.47,2.10,2.10,2.47,2.47,1.90,1.62,1.39,0.82,0.20,-0.03,0.40,0.96,1.25,1.53,1.62,1.45,1.16,0.96,1.16,1.05,1.16,1.10,0.88,0.88];
const velR7 = [[0,0.55],[0.4,0.35],[0.8,0.62],[1.2,0.45],[1.6,0.30],[2.0,0.62],[2.4,0.40],[2.8,0.25],[3.2,0.55],[3.6,0.38],[4.0,0.62],[4.4,0.30],[4.8,0.20],[5.2,0.55],[5.6,0.35],[6.0,0.65],[6.4,0.42],[6.8,0.30],[7.2,0.58],[7.6,0.40],[8.0,0.70],[8.4,0.35],[8.8,0.55],[9.2,0.30],[9.6,0.65],[10.0,0.45],[10.4,0.25],[10.8,0.60],[11.2,0.40],[11.6,0.30],[12.0,0.50],[12.4,0.35],[12.8,0.58],[13.2,0.40],[13.6,0.30],[14.0,0.35],[14.4,0.45],[14.8,0.30],[15.2,0.42],[15.6,0.28],[16.0,0.38],[16.4,0.25],[16.8,0.35],[17.2,0.50],[17.6,0.30],[18.0,0.55],[18.4,0.35],[18.8,0.62],[19.2,0.40],[19.6,0.25],[20.0,0.55],[20.4,0.35],[20.8,0.50],[21.2,0.30],[21.6,0.20],[22.0,0.45],[22.4,0.30],[22.8,0.55],[23.2,0.35],[23.6,0.25],[24.0,0.50],[24.4,0.20],[24.8,0.45],[25.2,0.60],[25.6,0.35],[26.0,0.25],[26.4,0.55],[26.8,0.30],[27.2,0.45],[27.6,0.20],[28.0,0.50],[28.4,0.30],[28.8,0.60],[29.2,0.35],[29.6,0.22],[30.0,0.50],[30.4,0.30],[30.8,0.45],[31.2,0.20],[31.6,0.40],[32.0,0.30],[32.4,0.15],[32.8,0.30],[33.2,0.20],[33.6,0.35],[34.0,0.15],[34.4,0.30],[34.8,0.20],[35.2,0.25],[35.6,0.12],[36.0,0.25],[36.4,0.10],[36.8,0.20],[37.2,0.05],[37.6,0.15],[38.0,0.05],[38.4,0.02],[38.8,0.01],[39.2,0],[39.6,0],[40,0.01]];
const blueR7 = [[13.8,17.2],[38,40]];

// ---------- R8: BED 8CU, 9 January 2017 ----------
const depR8 = [4.71,4.40,4.78,4.65,4.71,4.97,5.03,5.10,5.19,4.87,5.19,4.87,4.71,4.56,4.40,4.02,4.02,3.70,3.92,3.13,1.86,1.06,0.65,1.40,1.60,1.60,1.55,1.45,1.30,1.40,1.60,1.50,1.45,1.30,1.10,1.00,1.10,1.15,1.15,1.12,1.12];
const velR8 = [[0,0.35],[0.3,0.10],[0.6,0.25],[0.9,0.30],[1.2,0.15],[1.5,0.35],[1.8,0.20],[2.1,0.40],[2.4,0.25],[2.7,0.45],[3.0,0.30],[3.3,0.20],[3.6,0.35],[3.9,0.25],[4.2,0.40],[4.5,0.30],[4.8,0.38],[5.1,0.25],[5.4,0.45],[5.7,0.30],[6.0,0.42],[6.3,0.28],[6.6,0.40],[6.9,0.30],[7.2,0.50],[7.5,0.30],[7.8,0.45],[8.1,0.35],[8.4,0.30],[8.7,0.55],[9.0,0.35],[9.3,0.70],[9.6,0.45],[9.9,0.35],[10.2,0.60],[10.5,0.40],[10.8,0.68],[11.1,0.45],[11.4,0.55],[11.7,0.35],[12.0,0.50],[12.3,0.65],[12.6,0.40],[12.9,0.55],[13.2,0.45],[13.5,0.60],[13.8,0.40],[14.1,0.50],[14.4,0.35],[14.7,0.55],[15.0,0.85],[15.3,0.50],[15.6,0.35],[15.9,0.60],[16.2,0.45],[16.5,0.75],[16.8,0.50],[17.1,0.35],[17.4,0.55],[17.7,0.40],[18.0,0.30],[18.3,0.50],[18.6,0.95],[18.9,0.50],[19.2,0.40],[19.5,0.55],[19.8,0.70],[20.1,0.50],[20.4,0.35],[20.7,0.45],[21.0,0.30],[21.3,0.40],[21.6,0.50],[21.9,0.30],[22.2,0.40],[22.5,0.25],[22.8,0.35],[23.1,0.20],[23.4,0.10],[23.7,0.15],[24.0,0.05],[24.3,0.12],[24.6,0.08],[24.9,0.15],[25.2,0.05],[25.5,0.12],[25.8,0.08],[26.1,0.15],[26.4,0.04],[26.7,0.12],[27.0,0.06],[27.3,0.14],[27.6,0.05],[27.9,0.12],[28.2,0.06],[28.5,0.10],[28.8,0.04],[29.1,0.12],[29.4,0.08],[29.7,0.15],[30.0,0.05],[30.3,0.12],[30.6,0.06],[30.9,0.10],[31.2,0.04],[31.5,0.08],[31.8,0.12],[32.1,0.05],[32.4,0.10],[32.7,0.06],[33.0,0.12],[33.3,0.04],[33.6,0.10],[33.9,0.05],[34.2,0.08],[34.5,0.03],[34.8,0.10],[35.1,0.05],[35.4,0.08],[35.7,0.02],[36.0,0.08],[36.3,0.02],[36.6,0.10],[36.9,0.03],[37.2,0.06],[37.5,0.01],[37.8,0.08],[38.1,0.02],[38.4,0.06],[38.7,0.01],[39.0,0.05],[39.3,0.02],[39.6,0.06],[39.9,0.01]];
const blueR8 = [[13,19.2],[35.5,40]];

// ---------- axis ticks / labels ----------
const tkL = {L1:[0,1,2],L2:[0,1,2,3],L3:[1,2,3,4,5],L4:[0,1,2,3],L5:[1,2,3],L6:[0,1,2],L7:[0,1,2,3,4],L8:[0,2,4,6],
             R1:[0,1,2,3,4],R2:[1,2,3,4,5,6,7,8,9],R3:[0,1,2,3,4],R4:[0,1,2,3,4],R5:[1,2],R6:[0,1,2,3,4],R7:[0,1,2,3,4],R8:[1,2,3,4,5]};
const lbL = {L3:['1','','3','','5'],R2:['1','','3','','5','','7','','9'],R8:['1','','3','','5']};
const tkR = {L1:[0,1.2],L2:[0,2.5],L3:[0,2],L4:[0,1.5],L5:[0,2],L6:[0,1],L7:[0,2],L8:[0,1.5],
             R1:[0,2],R2:[0,2],R3:[0,2],R4:[0,2],R5:[0,2],R6:[0,1.2],R7:[0,1],R8:[0,1.2]};

// ---------- layout of panels (positions, not data) ----------
const PANELS = [
 {id:'L1',col:0,top:20,bot:178,yl:[0,2],yr:[0,1.2],dep:depL1,vel:velL1,blue:blueL1},
 {id:'L2',col:0,top:207,bot:364,yl:[0,3],yr:[0,2.5],dep:depL2,vel:velL2,blue:blueL2},
 {id:'L3',col:0,top:392,bot:550,yl:[0.2,5.15],yr:[0,2],dep:depL3,vel:velL3,blue:blueL3},
 {id:'L4',col:0,top:579,bot:737,yl:[0,3],yr:[0,1.5],dep:depL4,vel:velL4,blue:blueL4},
 {id:'L5',col:0,top:762,bot:920,yl:[0.55,3.5],yr:[0,2],dep:depL5,vel:velL5,blue:blueL5},
 {id:'L6',col:0,top:953,bot:1110,yl:[0,2.43],yr:[0,1],dep:depL6,vel:velL6,blue:blueL6},
 {id:'L7',col:0,top:1137,bot:1295,yl:[0,4.45],yr:[0,2],dep:depL7,vel:velL7,blue:blueL7},
 {id:'L8',col:0,top:1322,bot:1482,yl:[0,6.2],yr:[0,1.5],dep:depL8,vel:velL8,blue:blueL8,xaxis:true},
 {id:'R1',col:1,top:18,bot:178,yl:[0,4],yr:[0,2.28],dep:depR1,vel:velR1,blue:blueR1},
 {id:'R2',col:1,top:207,bot:364,yl:[0,9],yr:[0,2],dep:depR2,vel:velR2,blue:blueR2},
 {id:'R3',col:1,top:389,bot:546,yl:[-0.18,4.2],yr:[0,2],dep:depR3,vel:velR3,blue:blueR3},
 {id:'R4',col:1,top:578,bot:735,yl:[0,4],yr:[0,2],dep:depR4,vel:velR4,blue:blueR4},
 {id:'R5',col:1,top:758,bot:918,yl:[0.5,2.5],yr:[0,2],dep:depR5,vel:velR5,blue:blueR5},
 {id:'R6',col:1,top:950,bot:1105,yl:[0,4.33],yr:[0,1.2],dep:depR6,vel:velR6,blue:blueR6},
 {id:'R7',col:1,top:1132,bot:1296,yl:[-0.48,4.17],yr:[0,1.07],dep:depR7,vel:velR7,blue:blueR7},
 {id:'R8',col:1,top:1322,bot:1483,yl:[0.49,5.6],yr:[0,1.2],dep:depR8,vel:velR8,blue:blueR8,xaxis:true}
];

const OLIVE='#86722a', RED='#e8101a', BLUE='#1212f2', AXC='#3c3c3c';
const FONT='"Liberation Sans", Arial, sans-serif';

function inBlue(r,x){for(const [a,b] of r){if(x>=a&&x<b)return true;}return false;}

function yAxis(pos,range,tk,lb,w,pad){
  return {
    type:'linear',position:pos,min:range[0],max:range[1],
    afterFit:s=>{s.width=w;s.paddingTop=0;s.paddingBottom=0;},
    afterBuildTicks:s=>{s.ticks=tk.map(v=>({value:v}));},
    ticks:{autoSkip:false,padding:pad,color:'#111',font:{family:FONT,size:18},callback:(v,i)=>lb?lb[i]:String(v)},
    grid:{drawOnChartArea:false,drawTicks:true,tickLength:-6,color:AXC,lineWidth:1.3},
    border:{display:true,color:AXC,width:1.3}
  };
}

function build(p){
  const padT=12,padB=12,xh=p.xaxis?36:0;
  const H=(p.bot-p.top)+padT+padB+xh;
  const cv=document.createElement('canvas');
  cv.width=570;cv.height=H;
  cv.style.left=(p.col?618:56)+'px';cv.style.top=(p.top-padT)+'px';
  cv.style.width='570px';cv.style.height=H+'px';
  document.body.appendChild(cv);
  new Chart(cv,{
    type:'line',
    data:{datasets:[
      {data:p.vel.map(([x,y])=>({x,y})),yAxisID:'yR',borderColor:RED,borderWidth:1.4,pointRadius:0,tension:0,
       segment:{borderColor:c=>inBlue(p.blue,(c.p0.parsed.x+c.p1.parsed.x)/2)?BLUE:RED}},
      {data:p.dep.map((y,i)=>({x:i,y})),yAxisID:'yL',borderColor:OLIVE,borderWidth:1.8,pointRadius:0,tension:0,spanGaps:false}
    ]},
    options:{
      responsive:false,animation:false,devicePixelRatio:1,
      layout:{padding:{top:padT,bottom:padB,left:0,right:0}},
      plugins:{legend:{display:false},tooltip:{enabled:false}},
      scales:{
        x:{type:'linear',min:0,max:40,display:!!p.xaxis,
           afterFit:s=>{s.height=xh;s.paddingLeft=0;s.paddingRight=0;},
           afterBuildTicks:s=>{s.ticks=xTicks.map(v=>({value:v}));},
           ticks:{autoSkip:false,maxRotation:0,padding:6,color:'#111',font:{family:FONT,size:20}},
           grid:{drawOnChartArea:false,tickLength:6,color:AXC,lineWidth:1.3},
           border:{display:true,color:AXC,width:1.3}},
        yL:yAxis('left',p.yl,tkL[p.id],lbL[p.id],40,19),
        yR:yAxis('right',p.yr,tkR[p.id],null,48,10)
      }
    }
  });
}
PANELS.forEach(build);
</script>
</body></html>
